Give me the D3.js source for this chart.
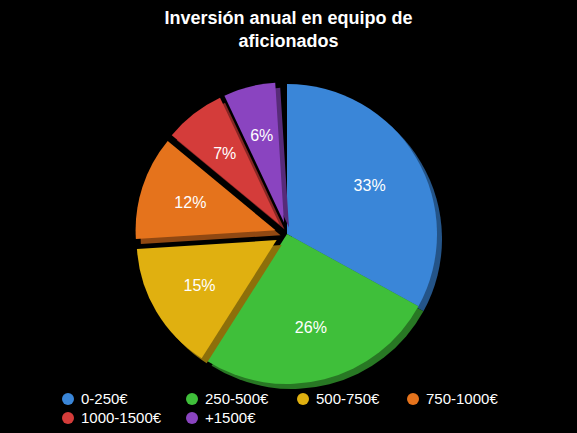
<!DOCTYPE html><html><head><meta charset="utf-8"><script src="https://cdn.jsdelivr.net/npm/d3@7"></script>
<style>body{margin:0;background:#000}</style></head><body><script>
const categories=["0-250€","250-500€","500-750€","750-1000€","1000-1500€","+1500€"];
const values=[33,26,15,12,7,6];
const colors=["#3a86d8","#3fbf3a","#e0b010","#e5731c","#d43c3a","#8a44c0"];
const explode=[0,0,12,12,12,12];
const W=577,H=433,cx=287,cy=234,r=150,rE=140;
const svg=d3.select("body").append("svg").attr("width",W).attr("height",H).style("background","#000");
svg.append("text").attr("x",W/2).attr("y",24).attr("text-anchor","middle").attr("fill","#fff")
 .attr("font-family","Liberation Sans, Arial").attr("font-weight","bold").attr("font-size",18).text("Inversión anual en equipo de");
svg.append("text").attr("x",W/2).attr("y",47).attr("text-anchor","middle").attr("fill","#fff")
 .attr("font-family","Liberation Sans, Arial").attr("font-weight","bold").attr("font-size",18).text("aficionados");
const pie=d3.pie().sort(null).value(d=>d).endAngle(2*Math.PI*d3.sum(values)/100);
const arcs=pie(values);
const arc=(d,i)=>d3.arc().innerRadius(0).outerRadius(explode[i]?rE:r)(d);
const g=svg.append("g").attr("transform",`translate(${cx},${cy})`);
const sl=g.selectAll("g.s").data(arcs).join("g").attr("transform",(d,i)=>{const m=(d.startAngle+d.endAngle)/2;return `translate(${Math.sin(m)*explode[i]},${-Math.cos(m)*explode[i]})`;});
sl.append("path").attr("d",arc).attr("transform","translate(5,5)").attr("fill",(d,i)=>d3.color(colors[i]).darker(1.3));
sl.append("path").attr("d",arc).attr("fill",(d,i)=>colors[i]);
sl.append("text").attr("transform",(d,i)=>{const m=(d.startAngle+d.endAngle)/2,rr=(explode[i]?rE:r)*0.64;return `translate(${Math.sin(m)*rr},${-Math.cos(m)*rr})`;})
 .attr("text-anchor","middle").attr("dy","0.35em").attr("fill","#fff").attr("font-family","Liberation Sans, Arial").attr("font-size",16)
 .text((d,i)=>values[i]+"%");
const lg=svg.append("g");
const lx=[68,192,303,413],ly=[399,418];
categories.forEach((c,i)=>{const x=lx[i%4],y=ly[Math.floor(i/4)];
 lg.append("circle").attr("cx",x).attr("cy",y).attr("r",6).attr("fill",colors[i]);
 lg.append("text").attr("x",x+13).attr("y",y).attr("dy","0.35em").attr("fill","#fff").attr("font-family","Liberation Sans, Arial").attr("font-size",15).text(c);});
</script></body></html>
